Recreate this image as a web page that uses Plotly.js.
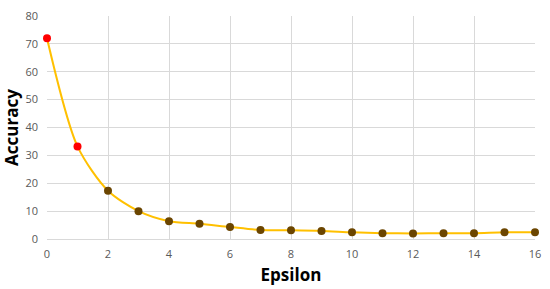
<!DOCTYPE html>
<html>
<head>
<meta charset="utf-8">
<script src="https://cdn.plot.ly/plotly-3.0.1.min.js"></script>
<style>
  html, body { margin: 0; padding: 0; background: #fff; }
  #graph { width: 550px; height: 289px; }
</style>
</head>
<body>
<div id="graph"></div>
<script>
    // *********************************************************************************************
    // DATA

    const EPSILON = [0, 1, 2, 3, 4, 5, 6, 7, 8, 9, 10, 11, 12, 13, 14, 15, 16]
    const ACCURACY = [72, 33.2, 17.3, 10.0, 6.4, 5.5, 4.3, 3.2, 3.1, 2.9, 2.4, 2.1, 2.0, 2.1, 2.1, 2.4, 2.4]
    const POINT_COLORS = EPSILON.map(e => e < 2 ? '#ff0000' : '#6b4500')

    const X_TICKS = [0, 2, 4, 6, 8, 10, 12, 14, 16]
    const Y_TICKS = [0, 10, 20, 30, 40, 50, 60, 70, 80]

    let trace = {
        type: 'scatter',
        mode: 'lines+markers',
        x: EPSILON,
        y: ACCURACY,
        line: { color: '#ffc000', width: 2, shape: 'spline', smoothing: 0.8 },
        marker: { color: POINT_COLORS, size: 8 },
        cliponaxis: false,
        hoverinfo: 'skip'
    };

    // *********************************************************************************************
    // LAYOUT

    let layout = {
        width: 550,
        height: 289,
        margin: { t: 16, r: 15, b: 50, l: 47 },
        paper_bgcolor: '#ffffff',
        plot_bgcolor: '#ffffff',
        showlegend: false,
        font: { family: 'Open Sans, sans-serif', color: '#595959', size: 11 },
        xaxis: {
            range: [0, 16],
            tickvals: X_TICKS,
            showgrid: true,
            gridcolor: '#d9d9d9',
            zeroline: false,
            showline: true,
            linecolor: '#d9d9d9',
            ticks: '',
            ticklabelstandoff: 5,
            tickfont: { size: 11, color: '#595959' },
            title: { text: 'Epsilon', font: { size: 17, color: '#000000', family: 'Open Sans, sans-serif', weight: 'bold' }, standoff: 8 }
        },
        yaxis: {
            range: [0, 80],
            tickvals: Y_TICKS,
            showgrid: true,
            gridcolor: '#d9d9d9',
            zeroline: false,
            showline: false,
            ticks: '',
            ticklabelstandoff: 8,
            tickfont: { size: 11, color: '#595959' },
            title: { text: 'Accuracy', font: { size: 17, color: '#000000', family: 'Open Sans, sans-serif', weight: 'bold' }, standoff: 4 }
        }
    };

    const config = { displaylogo: false, displayModeBar: false, staticPlot: true };

    Plotly.newPlot('graph', [trace], layout, config);
</script>
</body>
</html>
